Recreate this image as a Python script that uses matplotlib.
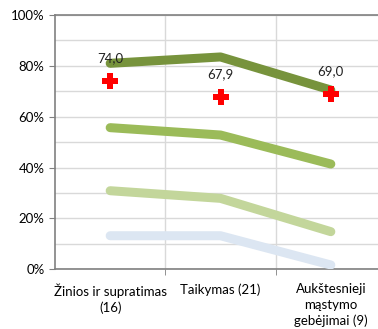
import matplotlib.pyplot as plt
from matplotlib.ticker import MultipleLocator, FuncFormatter

# kategorijos ir reikšmės (procentais)
categories = ["Žinios ir supratimas\n(16)", "Taikymas (21)", "Aukštesnieji\nmąstymo\ngebėjimai (9)"]
band_top = [81.0, 83.5, 70.5]
band_high = [55.7, 52.8, 41.4]
band_mid = [30.9, 27.9, 14.8]
band_low = [13.2, 13.2, 1.7]
averages = [74.0, 67.9, 69.0]
avg_labels = ["74,0", "67,9", "69,0"]

line_colors = ["#77933C", "#9BBB59", "#C3D69B", "#DCE6F2"]

plt.rcParams['font.family'] = ['Lato', 'DejaVu Sans']
fig = plt.figure(figsize=(3.78, 3.29), dpi=100)
ax = fig.add_axes([55/378, 59.7/329, 331/378, 254.3/329])

x = [1, 2, 3]
for vals, col in zip([band_top, band_high, band_mid, band_low], line_colors):
	ax.plot(x, vals, color=col, linewidth=6.5, solid_capstyle='round', solid_joinstyle='round', zorder=3)

ax.plot(x, averages, linestyle='none', marker='P', markersize=11, color='#FF0000', markeredgewidth=0, zorder=4)
for xi, v, lab in zip(x, averages, avg_labels):
	ax.text(xi, v + 6.5, lab, ha='center', va='bottom', fontsize=9.5, color='#222222', zorder=5)

ax.set_xlim(0.5, 3.5)
ax.set_ylim(0, 100)
ax.yaxis.set_major_locator(MultipleLocator(20))
ax.yaxis.set_minor_locator(MultipleLocator(10))
ax.yaxis.set_major_formatter(FuncFormatter(lambda v, p: f"{int(v)}%"))
ax.grid(True, which='both', axis='y', color='#D9D9D9', linewidth=1)
ax.set_xticks(x)
ax.set_xticklabels(categories, fontsize=9.5, linespacing=1.35)
ax.set_xticks([1.5, 2.5], minor=True)
ax.grid(True, which='minor', axis='x', color='#D9D9D9', linewidth=1)
ax.tick_params(axis='x', which='major', length=0, pad=10)
ax.tick_params(axis='x', which='minor', length=4, color='#808080')
ax.tick_params(axis='y', which='major', length=4, color='#808080', labelsize=9.5)
ax.tick_params(axis='y', which='minor', length=0)
ax.set_axisbelow(True)
for s in ['left', 'bottom', 'top']:
	ax.spines[s].set_color('#808080')
	ax.spines[s].set_linewidth(1.2)
ax.spines['right'].set_visible(False)

fig.savefig("out.png", dpi=100)
